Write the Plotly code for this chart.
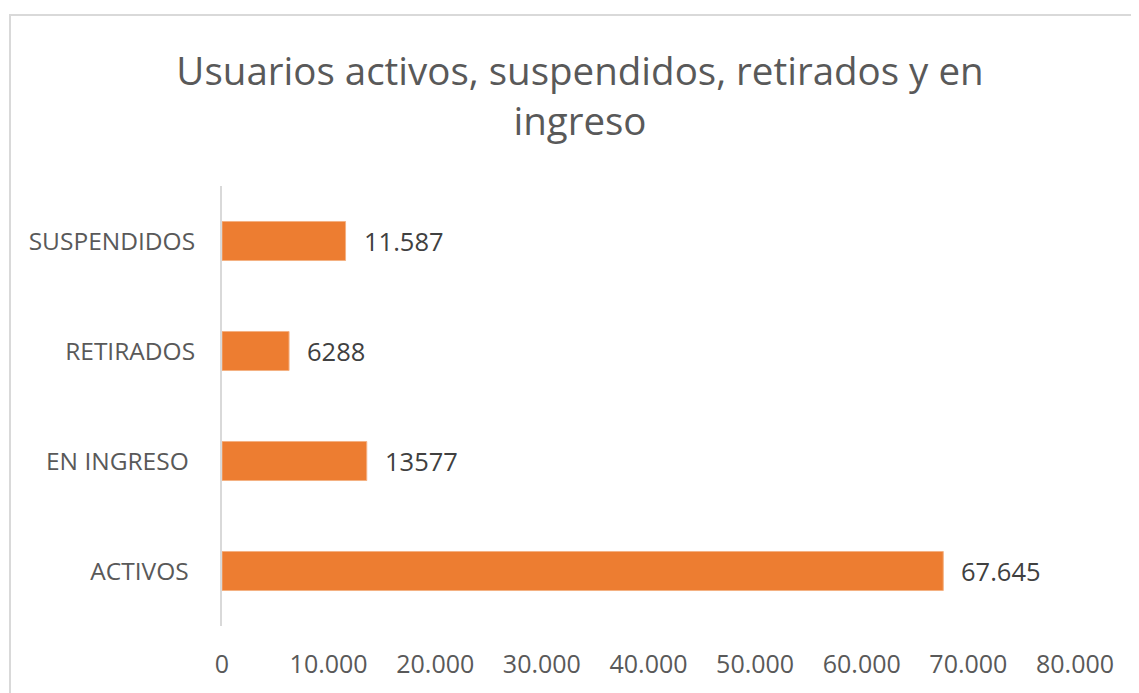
import plotly.graph_objects as go

categories = ["ACTIVOS\u00a0", "EN INGRESO\u00a0", "RETIRADOS", "SUSPENDIDOS"]
values = [67645, 13577, 6288, 11587]
value_labels = ["67.645", "13577", "6288", "11.587"]
x_tickvals = [0, 10000, 20000, 30000, 40000, 50000, 60000, 70000, 80000]
title_text = "Usuarios activos, suspendidos, retirados y en<br>ingreso"

BAR_COLOR = "#ED7D31"
TEXT_GRAY = "#595959"
LABEL_DARK = "#404040"
FONT = "Open Sans"

# the page body has an 8px default margin; compensate so the plot sits where the reference has it
OFF = 8
W, H = 1139 - OFF, 693 - OFF
L, R, T, B = 222 - OFF, 64, 186 - OFF, 67
PLOT_W = W - L - R
PLOT_H = H - T - B

fig = go.Figure()
fig.add_trace(go.Bar(
    x=values, y=categories, orientation="h",
    marker=dict(color=BAR_COLOR, line=dict(color="#F4B183", width=1)),
    width=0.355, hoverinfo="x+y",
))

for v, c, t in zip(values, categories, value_labels):
    fig.add_annotation(x=v, y=c, text=t, showarrow=False, xanchor="left",
                       xshift=16, font=dict(family=FONT, size=25.5, color=LABEL_DARK))

fig.update_layout(
    width=W, height=H,
    margin=dict(l=L, r=R, t=T, b=B),
    paper_bgcolor="white", plot_bgcolor="white",
    separators=",.",
    showlegend=False,
    title=dict(text=title_text, x=(580 - OFF) / W, xanchor="center",
               yref="container", y=1 - (84.5 - OFF) / H, yanchor="middle",
               font=dict(family=FONT, size=38.5, color=TEXT_GRAY)),
    font=dict(family=FONT, color=TEXT_GRAY),
    xaxis=dict(range=[0, 80000], tickvals=x_tickvals, tickformat=",d",
               showgrid=False, zeroline=False, showline=False, ticks="",
               ticklabelstandoff=21,
               tickfont=dict(family=FONT, size=25, color=TEXT_GRAY), fixedrange=True),
    yaxis=dict(range=[-0.5, 3.5], showgrid=False, zeroline=False,
               showline=True, linecolor="#D9D9D9", linewidth=2, ticks="",
               ticklabelstandoff=20,
               tickfont=dict(family=FONT, size=24.5, color=TEXT_GRAY), fixedrange=True),
    shapes=[dict(type="rect", xref="paper", yref="paper",
                 x0=(10 - OFF - L) / PLOT_W, x1=2.0, y0=-1.0,
                 y1=(T + PLOT_H - (15 - OFF)) / PLOT_H,
                 line=dict(color="#D9D9D9", width=2), fillcolor="rgba(0,0,0,0)",
                 layer="below")],
)

fig.write_html("out.html")
